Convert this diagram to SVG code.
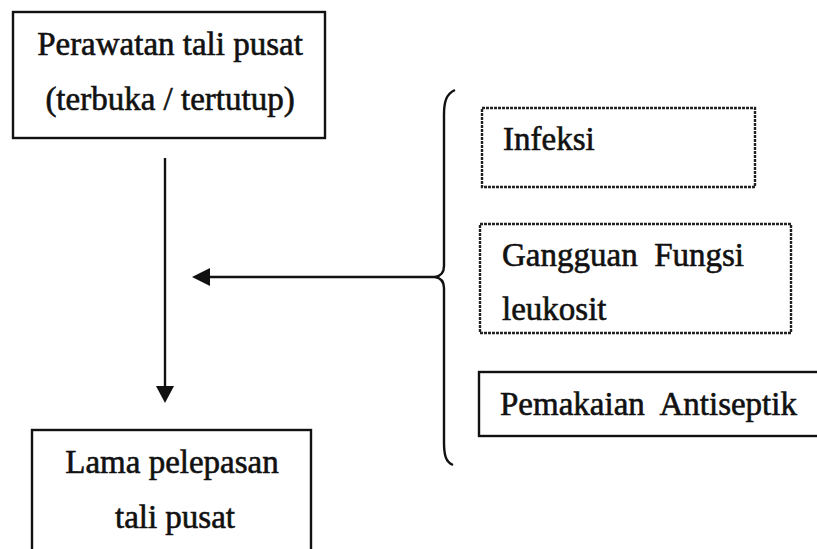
<svg xmlns="http://www.w3.org/2000/svg" width="817" height="549" viewBox="0 0 817 549">
<style>
.t{font-family:"Liberation Serif","Times New Roman",serif;font-size:33px;fill:#111;stroke:#111;stroke-width:0.6}
.solid{fill:none;stroke:#111;stroke-width:2.4}
.dot{fill:none;stroke:#222;stroke-width:2.4;stroke-dasharray:3 1}
.ln{fill:none;stroke:#111;stroke-width:2.4}
</style>
<rect width="817" height="549" fill="#fff"/>
<g id="node-perawatan">
<rect class="solid" x="13" y="12" width="312" height="126"/>
<text class="t" x="170" y="55" text-anchor="middle">Perawatan tali pusat</text>
<text class="t" x="170" y="110" text-anchor="middle">(terbuka / tertutup)</text>
</g>
<g id="node-infeksi">
<rect class="dot" x="482" y="108" width="273" height="79"/>
<text class="t" x="503" y="150">Infeksi</text>
</g>
<g id="node-gangguan">
<rect class="dot" x="480" y="224" width="311" height="109"/>
<text class="t" x="502" y="266" xml:space="preserve">Gangguan  Fungsi</text>
<text class="t" x="502" y="320">leukosit</text>
</g>
<g id="node-pemakaian">
<rect class="solid" x="479" y="372" width="345" height="64"/>
<text class="t" x="500" y="415" xml:space="preserve">Pemakaian  Antiseptik</text>
</g>
<g id="node-lama">
<rect class="solid" x="32" y="430" width="279" height="130"/>
<text class="t" x="172" y="473" text-anchor="middle">Lama pelepasan</text>
<text class="t" x="175" y="528" text-anchor="middle">tali pusat</text>
</g>
<g id="connectors">
<line class="ln" x1="165" y1="158" x2="165" y2="388"/>
<path d="M156,386 L174,386 L165,403 Z" fill="#111"/>
<line class="ln" x1="208" y1="277" x2="435" y2="277"/>
<path d="M210,268 L210,286 L192,277 Z" fill="#111"/>
<path class="ln" d="M455,90 C446,94 444,102 444,115 L444,266 C444,273 441,276 435,277 C441,278 444,281 444,288 L444,442 C444,456 446,462 453,465"/>
</g>
</svg>
